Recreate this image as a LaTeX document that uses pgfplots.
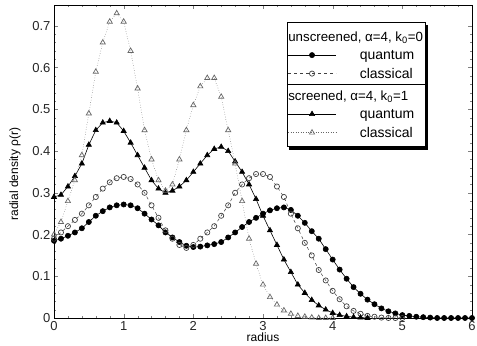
\documentclass[border=0pt]{standalone}
\usepackage{fontspec}
\setmainfont{Liberation Sans}
\usepackage{pgfplots}
\pgfplotsset{compat=1.18}
\newcommand{\ls}{\rule{0pt}{10.5pt}}
\newcommand{\hd}{\fontsize{13.3}{16}\selectfont}
\begin{document}
\begin{tikzpicture}
\begin{axis}[
  scale only axis, width=418pt, height=313pt,
  xmin=0, xmax=6, ymin=0, ymax=0.75,
  xtick={0,1,2,3,4,5,6},
  ytick={0,0.1,0.2,0.3,0.4,0.5,0.6,0.7},
  minor x tick num=4, minor y tick num=4,
  tick align=inside,
  major tick length=4pt, minor tick length=2pt,
  axis line style={line width=0.8pt},
  /pgf/number format/assume math mode=true,
  tick label style={font=\fontsize{13}{15}\selectfont, text=black!85},
  xlabel={radius}, ylabel={radial density ρ(r)},
  xlabel style={font=\fontsize{12}{14}\selectfont, at={(axis description cs:0.5,0)}, anchor=center, yshift=-19pt},
  ylabel style={font=\fontsize{12}{14}\selectfont, at={(axis description cs:-0.0933,0.46)}, anchor=center},
  legend image code/.code={\draw[mark repeat=2,mark phase=2,#1] plot coordinates {(0pt,0pt) (24pt,0pt) (48pt,0pt)};},
  legend cell align=left,
  legend style={name=leg, at={(0.557,0.945)}, anchor=north west,
    font=\fontsize{14}{16}\selectfont,
    draw=black, line width=0.8pt, fill=white,
    inner xsep=0.5pt, inner ysep=6.5pt, column sep=22pt, row sep=3.5pt,
    nodes={inner sep=1.5pt}},
]
\addlegendimage{empty legend}
\addlegendentry{\hspace*{-71.5pt}\hd\ls unscreened, α=4, k\textsubscript{0}=0}

\addplot[black, line width=0.6pt, mark=*, mark size=2.6pt, mark options={fill=black}] coordinates {
(0,0.185) (0.1,0.19) (0.2,0.197) (0.3,0.205) (0.4,0.215) (0.5,0.23) (0.6,0.245) (0.7,0.256) (0.8,0.265) (0.9,0.27)
(1.0,0.272) (1.1,0.27) (1.2,0.263) (1.3,0.25) (1.4,0.236) (1.5,0.222) (1.6,0.205) (1.7,0.193) (1.8,0.182) (1.9,0.173)
(2.0,0.17) (2.1,0.171) (2.2,0.174) (2.3,0.177) (2.4,0.182) (2.5,0.193) (2.6,0.205) (2.7,0.218) (2.8,0.23) (2.9,0.24)
(3.0,0.25) (3.1,0.258) (3.2,0.263) (3.3,0.265) (3.4,0.259) (3.5,0.245) (3.6,0.228) (3.7,0.208) (3.8,0.19) (3.9,0.165)
(4.0,0.14) (4.1,0.116) (4.2,0.094) (4.3,0.074) (4.4,0.058) (4.5,0.044) (4.6,0.033) (4.7,0.023) (4.8,0.016) (4.9,0.011)
(5.0,0.007) (5.1,0.005) (5.2,0.003) (5.3,0.002) (5.4,0.001) (5.5,0) (5.6,0) (5.7,0) (5.8,0) (5.9,0) (6.0,0)};
\addlegendentry{\ls quantum}

\addplot[black!75, line width=0.5pt, dash pattern=on 3pt off 3pt, mark=o, mark size=2.6pt, mark options={solid, line width=0.7pt, fill=white}] coordinates {
(0,0.19) (0.1,0.205) (0.2,0.22) (0.3,0.235) (0.4,0.25) (0.5,0.27) (0.6,0.29) (0.7,0.31) (0.8,0.325) (0.9,0.335)
(1.0,0.338) (1.1,0.333) (1.2,0.32) (1.3,0.30) (1.4,0.27) (1.5,0.24) (1.6,0.21) (1.7,0.19) (1.8,0.175) (1.9,0.168)
(2.0,0.175) (2.1,0.19) (2.2,0.205) (2.3,0.22) (2.4,0.245) (2.5,0.27) (2.6,0.30) (2.7,0.32) (2.8,0.335) (2.9,0.345)
(3.0,0.345) (3.1,0.338) (3.2,0.315) (3.3,0.29) (3.4,0.25) (3.5,0.215) (3.6,0.18) (3.7,0.15) (3.8,0.115) (3.9,0.09)
(4.0,0.065) (4.1,0.045) (4.2,0.028) (4.3,0.017) (4.4,0.01) (4.5,0.005) (4.6,0.003) (4.7,0.001) (4.8,0) (4.9,0) (5.0,0)};
\addlegendentry{\ls classical}

\addlegendimage{empty legend}
\addlegendentry{\hspace*{-71.5pt}\hd\rule{0pt}{14pt}screened, α=4, k\textsubscript{0}=1}

\addplot[black, line width=0.6pt, mark=triangle*, mark size=3pt, mark options={fill=black}] coordinates {
(0,0.29) (0.1,0.295) (0.2,0.315) (0.3,0.34) (0.4,0.37) (0.5,0.415) (0.6,0.45) (0.7,0.468) (0.8,0.472) (0.9,0.468)
(1.0,0.448) (1.1,0.42) (1.2,0.39) (1.3,0.36) (1.4,0.33) (1.5,0.31) (1.6,0.30) (1.7,0.305) (1.8,0.315) (1.9,0.33)
(2.0,0.35) (2.1,0.37) (2.2,0.39) (2.3,0.405) (2.4,0.41) (2.5,0.40) (2.6,0.375) (2.7,0.35) (2.8,0.32) (2.9,0.285)
(3.0,0.245) (3.1,0.21) (3.2,0.175) (3.3,0.14) (3.4,0.11) (3.5,0.08) (3.6,0.06) (3.7,0.043) (3.8,0.03) (3.9,0.02)
(4.0,0.012) (4.1,0.007) (4.2,0.004) (4.3,0.002) (4.4,0.001) (4.5,0)};
\addlegendentry{\ls quantum}

\addplot[black!60, line width=0.5pt, dotted, mark=triangle, mark size=3pt, mark options={solid, line width=0.7pt, fill=white}] coordinates {
(0,0.20) (0.1,0.23) (0.2,0.28) (0.3,0.33) (0.4,0.39) (0.5,0.49) (0.6,0.59) (0.7,0.66) (0.8,0.71) (0.9,0.73)
(1.0,0.71) (1.1,0.64) (1.2,0.55) (1.3,0.45) (1.4,0.38) (1.5,0.33) (1.6,0.305) (1.7,0.32) (1.8,0.38) (1.9,0.45)
(2.0,0.51) (2.1,0.555) (2.2,0.575) (2.3,0.575) (2.4,0.53) (2.5,0.45) (2.6,0.37) (2.7,0.28) (2.8,0.19) (2.9,0.13)
(3.0,0.08) (3.1,0.05) (3.2,0.032) (3.3,0.018) (3.4,0.01) (3.5,0.005) (3.6,0.003) (3.7,0.001) (3.8,0) (3.9,0) (4.0,0)};
\addlegendentry{\ls classical}
\end{axis}
\draw[line width=0.8pt] ([yshift=-62.5pt]leg.north west) -- ([yshift=-62.5pt]leg.north east);
\fill[black] ([yshift=-2.5pt]leg.north east) rectangle ([xshift=2.8pt,yshift=-2.8pt]leg.south east);
\fill[black] ([xshift=2.5pt]leg.south west) rectangle ([xshift=2.8pt,yshift=-2.8pt]leg.south east);
\pgfresetboundingbox
\path[use as bounding box] ([xshift=-54pt,yshift=-28pt]current axis.south west) rectangle ([xshift=5pt,yshift=5pt]current axis.north east);
\end{tikzpicture}
\end{document}
